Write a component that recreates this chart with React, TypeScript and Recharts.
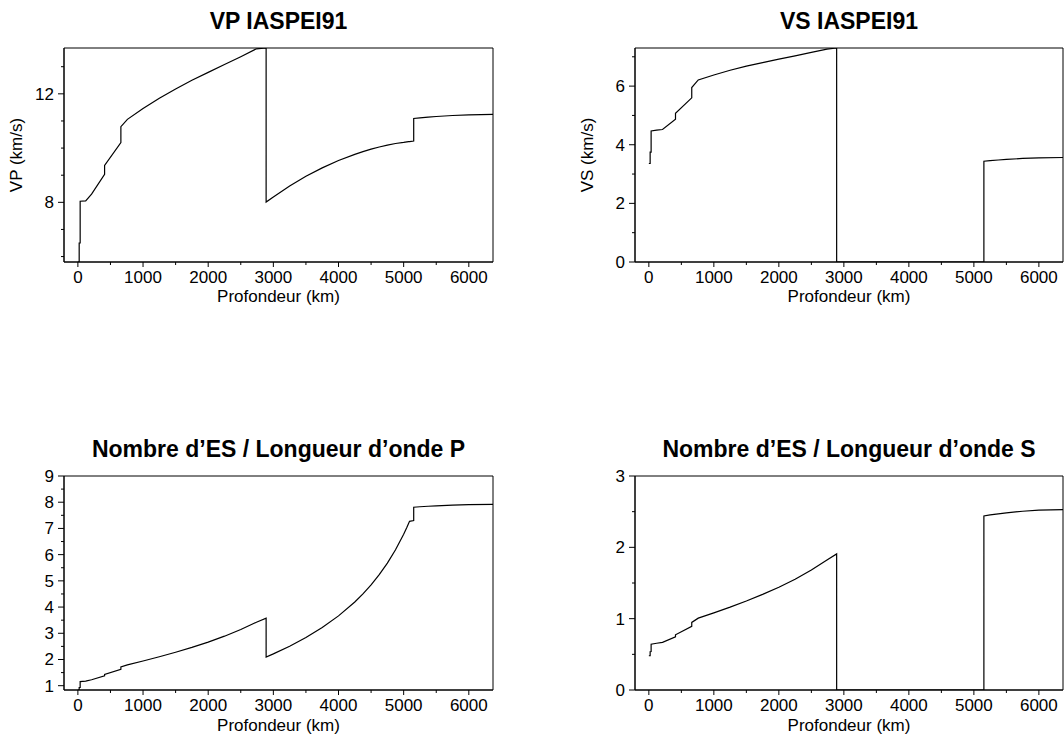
import { LineChart, Line, XAxis, YAxis, ReferenceArea } from "recharts";

// IASP91 profile, values
const depthKm = [
  0, 20, 20, 35, 35, 120, 210, 410, 410, 660, 660, 760, 1000, 1250, 1500, 1750,
  2000, 2250, 2500, 2740, 2889, 2889, 3000, 3250, 3500, 3750, 4000, 4250, 4375,
  4500, 4625, 4750, 4875, 5000, 5050, 5075, 5090, 5154, 5154, 5250, 5375, 5500,
  5750, 6000, 6371,
];
const vpKms = [
  5.8, 5.8, 6.5, 6.5, 8.04, 8.05, 8.3, 9.03, 9.36, 10.2, 10.79, 11.06, 11.46,
  11.84, 12.18, 12.5, 12.79, 13.08, 13.37, 13.66, 13.69, 8.01, 8.2, 8.6, 8.96,
  9.27, 9.54, 9.77, 9.87, 9.96, 10.04, 10.11, 10.17, 10.21, 10.23, 10.24, 10.24,
  10.26, 11.091, 11.114, 11.141, 11.164, 11.202, 11.227, 11.241,
];
const vsKms = [
  3.36, 3.36, 3.75, 3.75, 4.47, 4.5, 4.52, 4.87, 5.07, 5.6, 5.95, 6.21, 6.38,
  6.54, 6.68, 6.8, 6.92, 7.03, 7.15, 7.26, 7.3, 0, 0, 0, 0, 0, 0, 0, 0, 0, 0, 0,
  0, 0, 0, 0, 0, 0, 3.439, 3.458, 3.48, 3.5, 3.532, 3.553, 3.565,
];
const esPerWavelengthP = [
  0.828, 0.831, 0.931, 0.934, 1.155, 1.172, 1.226, 1.379, 1.429, 1.625, 1.719,
  1.793, 1.942, 2.105, 2.276, 2.461, 2.664, 2.889, 3.143, 3.423, 3.578, 2.093,
  2.213, 2.507, 2.839, 3.219, 3.663, 4.194, 4.502, 4.846, 5.234, 5.676, 6.185,
  6.78, 7.047, 7.19, 7.27, 7.3, 7.81, 7.826, 7.845, 7.861, 7.888, 7.906, 7.915,
];
const esPerWavelengthS = [
  0.48, 0.481, 0.537, 0.539, 0.642, 0.655, 0.668, 0.744, 0.774, 0.892, 0.948,
  1.007, 1.082, 1.162, 1.248, 1.34, 1.441, 1.553, 1.681, 1.821, 1.908, 0, 0, 0,
  0, 0, 0, 0, 0, 0, 0, 0, 0, 0, 0, 0, 0, 0, 2.44, 2.454, 2.47, 2.484, 2.506,
  2.521, 2.529,
];

const xTicks = [0, 500, 1000, 1500, 2000, 2500, 3000, 3500, 4000, 4500, 5000, 5500, 6000];
const vpTicks = [6, 7, 8, 9, 10, 11, 12, 13];
const vsTicks = [0, 1, 2, 3, 4, 5, 6, 7];
const esPTicks = [1, 1.5, 2, 2.5, 3, 3.5, 4, 4.5, 5, 5.5, 6, 6.5, 7, 7.5, 8, 8.5, 9];
const esSTicks = [0, 0.5, 1, 1.5, 2, 2.5, 3];

const rows = depthKm.map((d, i) => ({
  d,
  vp: vpKms[i],
  vs: vsKms[i],
  esP: esPerWavelengthP[i],
  esS: esPerWavelengthS[i],
}));

const FONT = '"Liberation Sans", Arial, Helvetica, sans-serif';
const X_DOMAIN: [number, number] = [-213, 6371];
const W = 532;
const H = 368;

function Panel({
  left,
  top,
  plotLeft,
  plotRight,
  plotTop,
  plotBottom,
  dataKey,
  yDomain,
  yTicks,
  isMajor,
}: {
  left: number;
  top: number;
  plotLeft: number;
  plotRight: number;
  plotTop: number;
  plotBottom: number;
  dataKey: string;
  yDomain: [number, number];
  yTicks: number[];
  isMajor: (v: number) => boolean;
}) {
  const xTick = (p: any) => {
    const { x, y, payload } = p;
    const major = payload.value % 1000 === 0;
    return (
      <g>
        <line x1={x} x2={x} y1={y} y2={y + (major ? 5 : 3)} stroke="#000" />
        {major && (
          <text x={x} y={y + 21} textAnchor="middle" fontSize={17} fontFamily={FONT} fill="#000">
            {payload.value}
          </text>
        )}
      </g>
    );
  };
  const yTick = (p: any) => {
    const { x, y, payload } = p;
    const major = isMajor(payload.value);
    return (
      <g>
        <line x1={x - (major ? 6 : 3)} x2={x} y1={y} y2={y} stroke="#000" />
        {major && (
          <text x={x - 10} y={y + 6} textAnchor="end" fontSize={17} fontFamily={FONT} fill="#000">
            {payload.value}
          </text>
        )}
      </g>
    );
  };
  return (
    <div style={{ position: "absolute", left, top }}>
      <LineChart
        width={W}
        height={H}
        data={rows}
        margin={{ top: plotTop - top, right: left + W - plotRight, bottom: 0, left: 0 }}
      >
        <XAxis
          type="number"
          dataKey="d"
          domain={X_DOMAIN}
          ticks={xTicks}
          interval={0}
          allowDataOverflow
          height={top + H - plotBottom}
          tickSize={0}
          tickMargin={0}
          tickLine={false}
          tick={xTick}
          axisLine={{ stroke: "#000" }}
        />
        <YAxis
          type="number"
          domain={yDomain}
          ticks={yTicks}
          interval={0}
          allowDataOverflow
          width={plotLeft - left}
          tickSize={0}
          tickMargin={0}
          tickLine={false}
          tick={yTick}
          axisLine={{ stroke: "#000" }}
        />
        <ReferenceArea
          x1={X_DOMAIN[0]}
          x2={X_DOMAIN[1]}
          y1={yDomain[0]}
          y2={yDomain[1]}
          fill="none"
          stroke="#000"
          strokeWidth={1}
        />
        <Line
          type="linear"
          dataKey={dataKey}
          stroke="#000"
          strokeWidth={1.2}
          dot={false}
          activeDot={false}
          isAnimationActive={false}
        />
      </LineChart>
    </div>
  );
}

export default function App() {
  return (
    <div
      style={{
        position: "absolute",
        left: 0,
        top: 0,
        width: 1064,
        height: 736,
        background: "#fff",
        fontFamily: FONT,
        overflow: "hidden",
      }}
    >
      <Panel
        left={0}
        top={0}
        plotLeft={64}
        plotRight={493}
        plotTop={48}
        plotBottom={262}
        dataKey="vp"
        yDomain={[5.8, 13.69]}
        yTicks={vpTicks}
        isMajor={(v) => v % 4 === 0}
      />
      <Panel
        left={532}
        top={0}
        plotLeft={635}
        plotRight={1063}
        plotTop={48}
        plotBottom={262}
        dataKey="vs"
        yDomain={[0, 7.3]}
        yTicks={vsTicks}
        isMajor={(v) => v % 2 === 0}
      />
      <Panel
        left={0}
        top={368}
        plotLeft={64}
        plotRight={493}
        plotTop={476}
        plotBottom={690}
        dataKey="esP"
        yDomain={[0.836, 9]}
        yTicks={esPTicks}
        isMajor={(v) => Number.isInteger(v)}
      />
      <Panel
        left={532}
        top={368}
        plotLeft={635}
        plotRight={1063}
        plotTop={476}
        plotBottom={690}
        dataKey="esS"
        yDomain={[0, 3]}
        yTicks={esSTicks}
        isMajor={(v) => Number.isInteger(v)}
      />
      <svg
        width={1064}
        height={736}
        style={{ position: "absolute", left: 0, top: 0, pointerEvents: "none" }}
        fontFamily={FONT}
        fill="#000"
      >
        <g fontSize={23} fontWeight="bold" textAnchor="middle">
          <text x={278.5} y={29.3}>VP IASPEI91</text>
          <text x={849} y={29.3}>VS IASPEI91</text>
          <text x={278.5} y={456.7}>Nombre d’ES / Longueur d’onde P</text>
          <text x={849} y={456.7}>Nombre d’ES / Longueur d’onde S</text>
        </g>
        <g fontSize={17} textAnchor="middle">
          <text x={278.5} y={302}>Profondeur (km)</text>
          <text x={849} y={302}>Profondeur (km)</text>
          <text x={278.5} y={731}>Profondeur (km)</text>
          <text x={849} y={731}>Profondeur (km)</text>
          <text transform="translate(22,155) rotate(-90)">VP (km/s)</text>
          <text transform="translate(593,155) rotate(-90)">VS (km/s)</text>
        </g>
      </svg>
    </div>
  );
}
